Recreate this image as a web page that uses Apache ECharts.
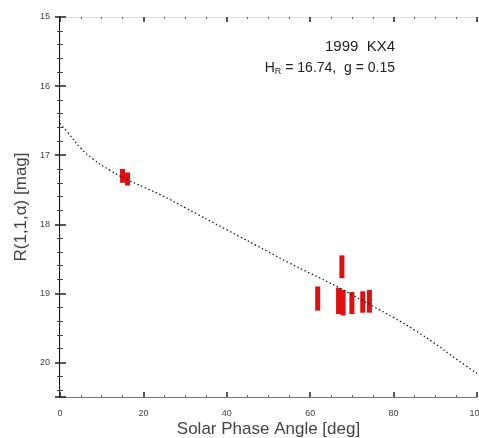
<!DOCTYPE html>
<html>
<head>
<meta charset="utf-8">
<script src="https://cdn.jsdelivr.net/npm/echarts@6/dist/echarts.min.js"></script>
<style>html,body{margin:0;padding:0;background:#fff}#c{width:479px;height:438px}</style>
</head>
<body>
<div id="c"></div>
<script>
// Fitted phase curve: [phase angle, reduced mag]
const curveAlpha = [0, 2, 5, 8, 12, 16, 20, 25, 30, 40, 50, 55, 60, 67, 70, 76.7, 80, 85, 90, 95, 100];
const curveMag   = [16.54, 16.68, 16.9, 17.06, 17.22, 17.35, 17.46, 17.6, 17.76, 18.08, 18.4, 18.56, 18.71, 18.92, 19.02, 19.24, 19.35, 19.53, 19.73, 19.95, 20.16];
// Observations: phase angle, low mag, high mag
const obsAlpha = [15.0, 16.2, 61.8, 66.8, 67.6, 67.9, 70.0, 72.6, 74.2];
const obsLow   = [17.20, 17.25, 18.90, 18.92, 18.45, 18.95, 18.98, 18.97, 18.95];
const obsHigh  = [17.40, 17.44, 19.25, 19.30, 18.78, 19.32, 19.30, 19.28, 19.28];
const xTicks = [0, 20, 40, 60, 80, 100];
const yTicks = [15, 16, 17, 18, 19, 20];

const chart = echarts.init(document.getElementById('c'));
const font = '"Liberation Sans", Arial, sans-serif';
const txt = '#444';
chart.setOption({
  animation: false,
  grid: {left: 60, right: 2, top: 17, bottom: 41, containLabel: false, outerBoundsMode: 'none'},
  xAxis: [{
    type: 'value', min: 0, max: 100, interval: 20, position: 'bottom',
    axisLine: {lineStyle: {color: '#777', width: 1}},
    axisTick: {inside: true, length: 5, lineStyle: {color: '#222', width: 1.5}},
    minorTick: {show: true, splitNumber: 4, length: 2, lineStyle: {color: '#666'}},
    splitLine: {show: false},
    axisLabel: {color: txt, fontSize: 9, fontFamily: font, margin: 12,
      formatter: v => xTicks.indexOf(v) >= 0 ? String(v) : ''},
    name: 'Solar Phase Angle [deg]', nameLocation: 'middle', nameGap: 24, nameMoveOverlap: false,
    nameTextStyle: {color: txt, fontSize: 17, fontFamily: font}
  }, {
    type: 'value', min: 0, max: 100, interval: 20, position: 'top',
    axisLine: {show: true, lineStyle: {color: '#ddd', width: 1}},
    axisTick: {inside: true, length: 5, lineStyle: {color: '#222', width: 1.5}},
    minorTick: {show: true, splitNumber: 4, length: 2, lineStyle: {color: '#666'}},
    splitLine: {show: false}, axisLabel: {show: false}
  }],
  yAxis: [{
    type: 'value', min: 15, max: 20.5, interval: 1, inverse: true, position: 'left',
    axisLine: {show: true, lineStyle: {color: '#111', width: 2}},
    axisTick: {inside: true, length: 6, lineStyle: {color: '#222', width: 1.5}},
    minorTick: {show: true, splitNumber: 5, length: 3, lineStyle: {color: '#444'}},
    splitLine: {show: false},
    axisLabel: {color: txt, fontSize: 9, fontFamily: font, margin: 10,
      formatter: v => yTicks.indexOf(v) >= 0 ? String(v) : ''},
    name: 'R(1,1,\u03b1) [mag]', nameLocation: 'middle', nameGap: 30, nameMoveOverlap: false,
    nameTextStyle: {color: txt, fontSize: 17, fontFamily: font}
  }, {
    type: 'value', min: 15, max: 20.5, interval: 1, inverse: true, position: 'right',
    axisLine: {show: true, lineStyle: {color: '#eee', width: 1}},
    axisTick: {inside: true, length: 5, lineStyle: {color: '#222', width: 1.5}},
    minorTick: {show: true, splitNumber: 5, length: 3, lineStyle: {color: '#444'}},
    splitLine: {show: false}, axisLabel: {show: false}
  }],
  graphic: [
    {type: 'text', right: 84, top: 39, style: {text: '1999  KX4', fill: '#222', font: '15px ' + font, textAlign: 'right'}},
    {type: 'text', right: 84, top: 61, style: {
      text: '{h|H}{s|R}{h| = 16.74,  g = 0.15}',
      rich: {h: {fill: '#222', font: '14px ' + font}, s: {fill: '#222', font: '9px ' + font, verticalAlign: 'bottom', padding: [7, 0, 0, 0]}}
    }}
  ],
  series: [{
    type: 'line', smooth: true, symbol: 'none',
    data: curveAlpha.map((a, i) => [a, curveMag[i]]),
    lineStyle: {color: '#111', width: 1.2, type: [1.5, 2.5]}
  }, {
    type: 'custom',
    data: obsAlpha.map((a, i) => [a, obsLow[i], obsHigh[i]]),
    encode: {x: 0, y: [1, 2]},
    renderItem: (params, api) => {
      const p1 = api.coord([api.value(0), api.value(1)]);
      const p2 = api.coord([api.value(0), api.value(2)]);
      return {type: 'rect', shape: {x: p1[0] - 2.5, y: p1[1], width: 5, height: p2[1] - p1[1]},
        style: {fill: '#e01010'}};
    },
    z: 3
  }]
});
</script>
</body>
</html>
